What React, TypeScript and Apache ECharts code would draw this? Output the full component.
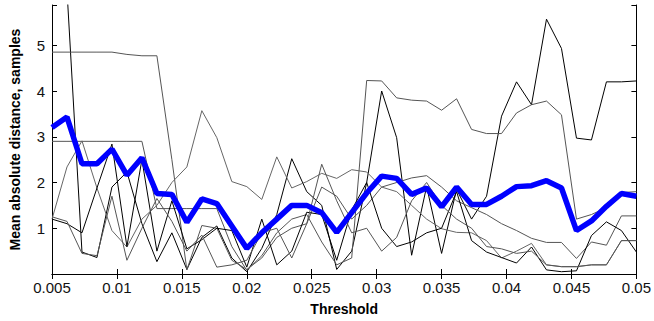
import React, { useEffect, useRef } from "react";
import * as echarts from "echarts";

const thresholds = [
  0.005, 0.006154, 0.007308, 0.008462, 0.009615, 0.010769, 0.011923, 0.013077, 0.014231, 0.015385,
  0.016538, 0.017692, 0.018846, 0.02, 0.021154, 0.022308, 0.023462, 0.024615, 0.025769, 0.026923,
  0.028077, 0.029231, 0.030385, 0.031538, 0.032692, 0.033846, 0.035, 0.036154, 0.037308, 0.038462,
  0.039615, 0.040769, 0.041923, 0.043077, 0.044231, 0.045385, 0.046538, 0.047692, 0.048846, 0.05,
];

const meanLine = [
  3.2, 3.43, 2.41, 2.41, 2.73, 2.16, 2.54, 1.76, 1.74, 1.13,
  1.64, 1.54, 1.05, 0.56, 0.9, 1.2, 1.5, 1.5, 1.34, 0.91,
  1.34, 1.77, 2.14, 2.09, 1.74, 1.88, 1.47, 1.9, 1.52, 1.52,
  1.7, 1.91, 1.93, 2.04, 1.88, 0.95, 1.16, 1.48, 1.76, 1.7,
];

const run1 = [
  9.0, 6.2, 0.48, 0.36, 1.9, 2.23, 1.1, 0.27, 0.9, 0.1,
  0.8, 1.05, 0.35, 0.05, 0.56, 1.3, 2.52, 1.8, 1.5, 0.1,
  0.5, 2.0, 4.0, 2.98, 0.41, 1.91, 0.45, 1.85, 1.2, 1.7,
  3.45, 4.2, 3.7, 5.57, 4.93, 2.97, 2.93, 4.2, 4.2, 4.22,
];

const run2 = [
  4.85, 4.85, 4.85, 4.85, 4.85, 4.8, 4.77, 4.77, 2.5, 0.09,
  1.06, 1.0, 0.3, 0.1, 0.35, 0.8, 1.0, 1.1, 1.9, 1.7,
  1.2, 1.5, 1.9, 2.0, 2.1, 2.15, 1.9, 1.6, 1.45, 1.3,
  1.1, 0.95, 0.78, 0.69, 0.69, 0.34, 0.7, 0.63, 1.27, 1.27,
];

const run3 = [
  2.9, 2.9, 2.9, 2.9, 2.9, 2.9, 2.9, 1.43, 1.43, 1.43,
  1.43, 1.43, 0.6, 0.08, 0.4, 0.9, 1.2, 1.3, 0.7, 0.2,
  0.35, 4.23, 4.22, 3.85, 3.8, 3.78, 3.58, 3.83, 3.16, 3.07,
  3.07, 3.52, 3.7, 3.78, 3.48, 1.2, 1.3, 1.45, 1.78, 1.8,
];

const run4 = [
  1.2, 2.34, 2.91, 1.88, 0.95, 0.59, 1.2, 1.5, 2.0, 2.34,
  3.57, 2.98, 2.02, 1.91, 1.63, 2.56, 1.88, 2.02, 2.2, 2.09,
  2.28, 2.23, 1.9, 1.8, 1.5, 1.2, 0.99, 0.91, 0.9, 0.73,
  0.35, 0.5, 0.67, 0.2, 0.16, 0.16, 0.2, 0.2, 0.73, 0.73,
];

const run5 = [
  1.2, 1.1, 0.9, 1.88, 2.84, 0.6, 2.5, 0.5, 1.6, 0.55,
  0.75, 1.0, 0.95, 0.15, 1.2, 0.2, 0.5, 1.35, 1.3, 0.3,
  1.4, 2.0, 1.0, 0.6, 0.7, 0.9, 1.0, 1.8, 0.73, 0.48,
  0.36, 0.24, 0.59, 0.09, 0.05, 0.07, 0.84, 1.14, 0.95, 0.48,
];

const run6 = [
  1.25, 1.15, 0.45, 0.4, 1.7, 0.3, 1.0, 1.65, 1.15, 0.5,
  0.85, 0.15, 0.2, 0.3, 0.9, 1.0, 0.35, 1.1, 2.4, 1.6,
  0.9, 1.0, 0.5, 0.8, 1.6, 2.0, 1.5, 1.2, 1.0, 0.6,
  0.55, 0.45, 0.5, 0.2, 0.16, 0.16, 0.2, 0.2, 0.73, 0.73,
];

const thinRuns = [
  { values: run1, color: "#000000" },
  { values: run2, color: "#555555" },
  { values: run3, color: "#555555" },
  { values: run4, color: "#666666" },
  { values: run5, color: "#000000" },
  { values: run6, color: "#555555" },
];

const yTickLabels = ["1", "2", "3", "4", "5"];

const pair = (vals: number[]) => thresholds.map((t, i) => [t, vals[i]]);

export default function App() {
  const ref = useRef<HTMLDivElement>(null);
  useEffect(() => {
    document.body.style.margin = "0";
    const chart = echarts.init(ref.current!, null, { renderer: "svg" });
    const font = "Liberation Sans, Arial, sans-serif";
    const axisCommon = {
      axisLine: { show: true, lineStyle: { color: "#000", width: 1 } },
      axisTick: { show: true, inside: true, length: 5, lineStyle: { color: "#000" } },
      splitLine: { show: false },
    };
    chart.setOption({
      animation: false,
      backgroundColor: "#fff",
      grid: { left: 44, right: 17, top: 5, bottom: 42, containLabel: false },
      xAxis: [
        {
          type: "value",
          min: 0.005,
          max: 0.05,
          interval: 0.005,
          ...axisCommon,
          axisLabel: {
            color: "#111",
            fontSize: 15,
            fontFamily: font,
            margin: 6,
            formatter: (v: number) => String(+v.toFixed(3)),
          },
          name: "Threshold",
          nameLocation: "middle",
          nameGap: 28,
          nameTextStyle: { fontWeight: "bold", fontSize: 14, fontFamily: font, color: "#000" },
        },
        {
          type: "value",
          position: "top",
          min: 0.005,
          max: 0.05,
          interval: 0.005,
          ...axisCommon,
          axisLabel: { show: false },
        },
      ],
      yAxis: [
        {
          type: "value",
          min: 0,
          max: 5.88,
          interval: 1,
          ...axisCommon,
          axisLabel: {
            color: "#111",
            fontSize: 15,
            fontFamily: font,
            margin: 7,
            formatter: (v: number) => {
              const s = String(Math.round(v));
              return Math.abs(v - Math.round(v)) < 1e-6 && yTickLabels.includes(s) ? s : "";
            },
          },
          name: "Mean absolute distance, samples",
          nameLocation: "middle",
          nameGap: 30,
          nameTextStyle: { fontWeight: "bold", fontSize: 14, fontFamily: font, color: "#000" },
        },
        {
          type: "value",
          position: "right",
          min: 0,
          max: 5.88,
          interval: 1,
          ...axisCommon,
          axisLabel: { show: false },
        },
      ],
      series: [
        ...thinRuns.map((r) => ({
          type: "line",
          data: pair(r.values),
          showSymbol: false,
          symbol: "none",
          clip: true,
          lineStyle: { color: r.color, width: 1 },
          z: 2,
        })),
        {
          type: "line",
          data: pair(meanLine),
          showSymbol: false,
          symbol: "none",
          clip: true,
          lineStyle: { color: "#0000ff", width: 5.5 },
          z: 3,
        },
      ],
    });
    return () => chart.dispose();
  }, []);
  return <div ref={ref} style={{ width: 654, height: 321 }} />;
}
